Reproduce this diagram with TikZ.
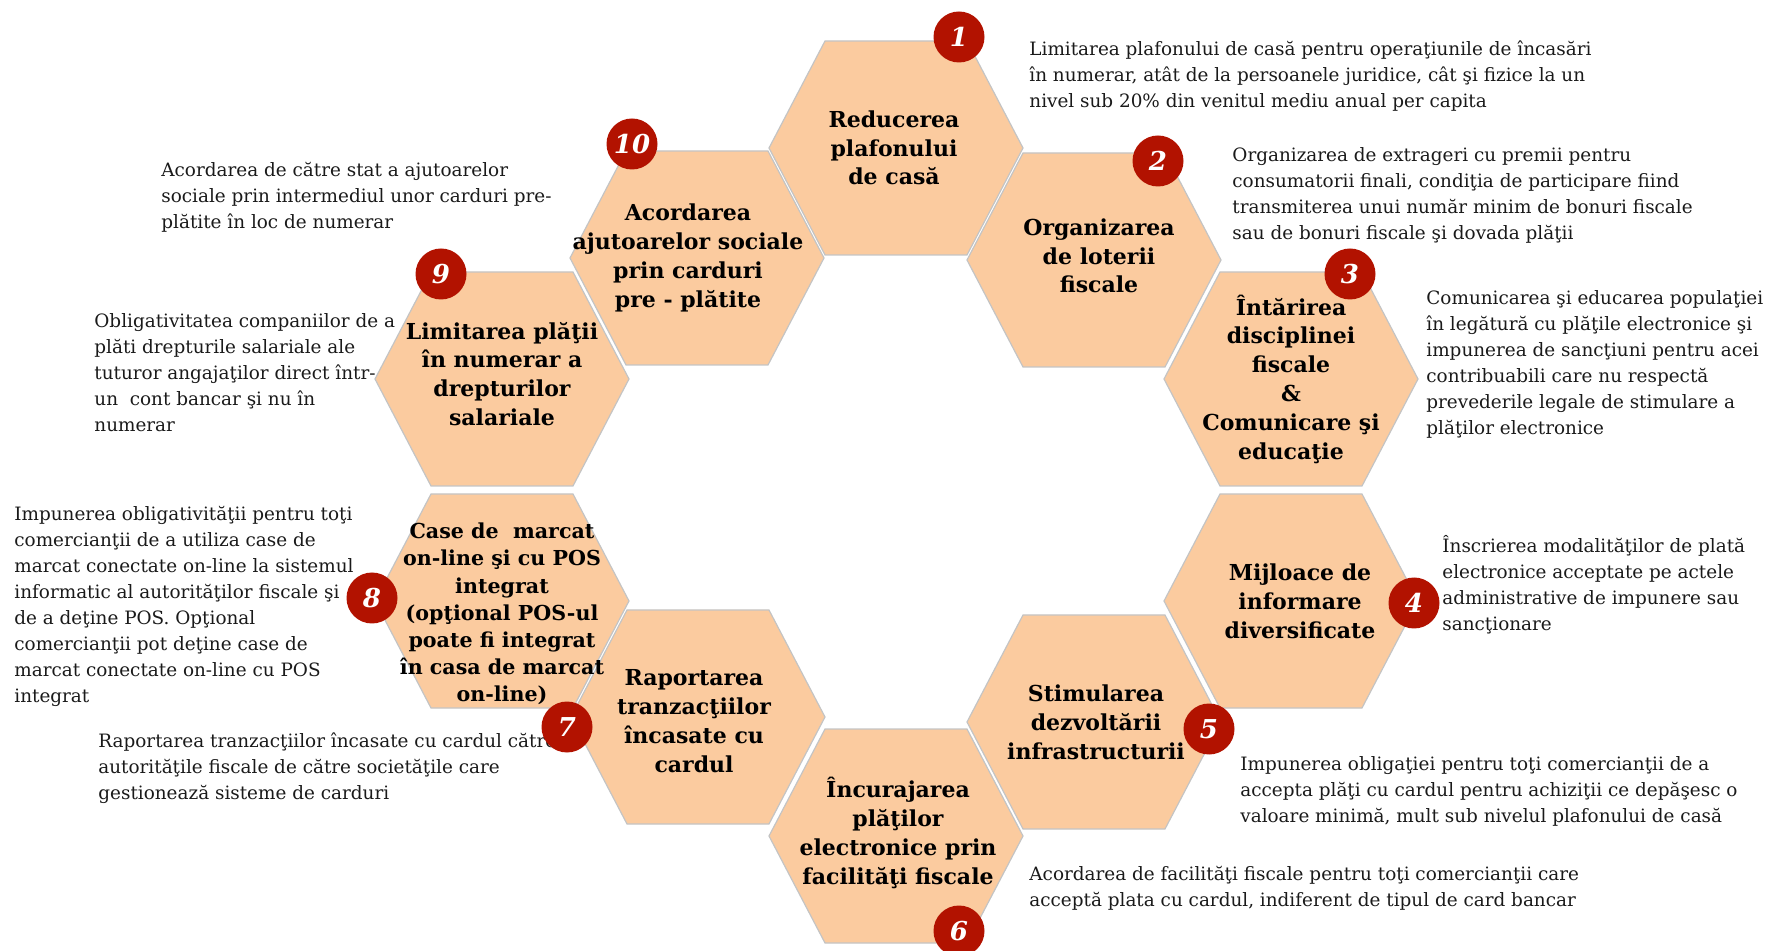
\documentclass[tikz,border=0pt]{standalone}
\usepackage{fontspec}
\setmainfont{DejaVu Serif}
\usepackage{tikz}
\usetikzlibrary{positioning, backgrounds}
\definecolor{hexFill}{HTML}{FBCB9F}
\definecolor{hexLine}{HTML}{C4C4C4}
\definecolor{badgeRed}{HTML}{B21200}
\definecolor{bodyText}{HTML}{1A1A1A}

\begin{document}
\begin{tikzpicture}[
  x=0.5pt, y=-0.5pt,
  every node/.style={inner sep=0pt},
  hexagon/.style={fill=hexFill, draw=hexLine, line width=0.6pt},
  hexlabel/.style={align=center, text=black,
                   font=\fontsize{11}{14.4}\selectfont\bfseries},
  desc/.style={align=left, anchor=north west, text=bodyText,
               font=\fontsize{9.2}{13}\selectfont},
  badge/.style={circle, fill=badgeRed, minimum size=25.5pt, text=white,
                font=\fontsize{13}{13}\selectfont\bfseries\itshape},
]
\useasboundingbox (0,0) rectangle (1767,951);

\node[hexlabel] (h1) at (894,148) {Reducerea\\plafonului\\de casă};
\node[hexlabel] (h2) at (1099,256) {Organizarea\\de loterii\\fiscale};
\node[hexlabel] (h3) at (1291,379) {Întărirea\\disciplinei\\fiscale\\\&\\Comunicare şi\\educaţie};
\node[hexlabel] (h4) at (1300,601) {Mijloace de\\informare\\diversificate};
\node[hexlabel] (h5) at (1096,722) {Stimularea\\dezvoltării\\infrastructurii};
\node[hexlabel] (h6) at (898,833) {Încurajarea\\plăţilor\\electronice prin\\facilităţi fiscale};
\node[hexlabel] (h7) at (694,721) {Raportarea\\tranzacţiilor\\încasate cu\\cardul};
\node[hexlabel, font=\fontsize{10.3}{13.6}\selectfont\bfseries] (h8) at (502,614)
  {Case de~ marcat\\on-line şi cu POS\\integrat\\(opţional POS-ul\\poate fi integrat\\în casa de marcat\\on-line)};
\node[hexlabel] (h9) at (502,374) {Limitarea plăţii\\în numerar a\\drepturilor\\salariale};
\node[hexlabel] (h10) at (688,258) {Acordarea\\ajutoarelor sociale\\prin carduri\\pre - plătite};

\begin{scope}[on background layer]
  \foreach \cx/\cy in {896/148, 1094/260, 1291/379, 1291/601, 1094/722,
                       896/836, 698/717, 502/601, 502/379, 697/258}
    \path[hexagon] (\cx,\cy) ++(-127,0) -- ++(56,-107) -- ++(142,0)
      -- ++(56,107) -- ++(-56,107) -- ++(-142,0) -- cycle;
\end{scope}

\node[desc] (d1) at (1029,40) {Limitarea plafonului de casă pentru operaţiunile de încasări\\în numerar, atât de la persoanele juridice, cât şi fizice la un\\nivel sub 20\% din venitul mediu anual per capita};
\node[desc] (d2) at (1232,147) {Organizarea de extrageri cu premii pentru\\consumatorii finali, condiţia de participare fiind\\transmiterea unui număr minim de bonuri fiscale\\sau de bonuri fiscale şi dovada plăţii};
\node[desc] (d3) at (1426,290) {Comunicarea şi educarea populaţiei\\în legătură cu plăţile electronice şi\\impunerea de sancţiuni pentru acei\\contribuabili care nu respectă\\prevederile legale de stimulare a\\plăţilor electronice};
\node[desc] (d4) at (1442,535) {Înscrierea modalităţilor de plată\\electronice acceptate pe actele\\administrative de impunere sau\\sancţionare};
\node[desc] (d5) at (1240,756) {Impunerea obligaţiei pentru toţi comercianţii de a\\accepta plăţi cu cardul pentru achiziţii ce depăşesc o\\valoare minimă, mult sub nivelul plafonului de casă};
\node[desc] (d6) at (1029,866) {Acordarea de facilităţi fiscale pentru toţi comercianţii care\\acceptă plata cu cardul, indiferent de tipul de card bancar};
\node[desc] (d7) at (98,732) {Raportarea tranzacţiilor încasate cu cardul către\\autorităţile fiscale de către societăţile care\\gestionează sisteme de carduri};
\node[desc] (d8) at (14,506) {Impunerea obligativităţii pentru toţi\\comercianţii de a utiliza case de\\marcat conectate on-line la sistemul\\informatic al autorităţilor fiscale şi\\de a deţine POS. Opţional\\comercianţii pot deţine case de\\marcat conectate on-line cu POS\\integrat};
\node[desc] (d9) at (94,313) {Obligativitatea companiilor de a\\plăti drepturile salariale ale\\tuturor angajaţilor direct într-\\un~ cont bancar şi nu în\\numerar};
\node[desc] (d10) at (161,162) {Acordarea de către stat a ajutoarelor\\sociale prin intermediul unor carduri pre-\\plătite în loc de numerar};

\node[badge] (n1) at (959,37) {1};
\node[badge] (n2) at (1158,161) {2};
\node[badge] (n3) at (1350,274) {3};
\node[badge] (n4) at (1414,603) {4};
\node[badge] (n5) at (1209,729) {5};
\node[badge] (n6) at (959,931) {6};
\node[badge] (n7) at (567,727) {7};
\node[badge] (n8) at (372,598) {8};
\node[badge] (n9) at (441,274) {9};
\node[badge] (n10) at (632,144) {10};

\end{tikzpicture}
\end{document}
